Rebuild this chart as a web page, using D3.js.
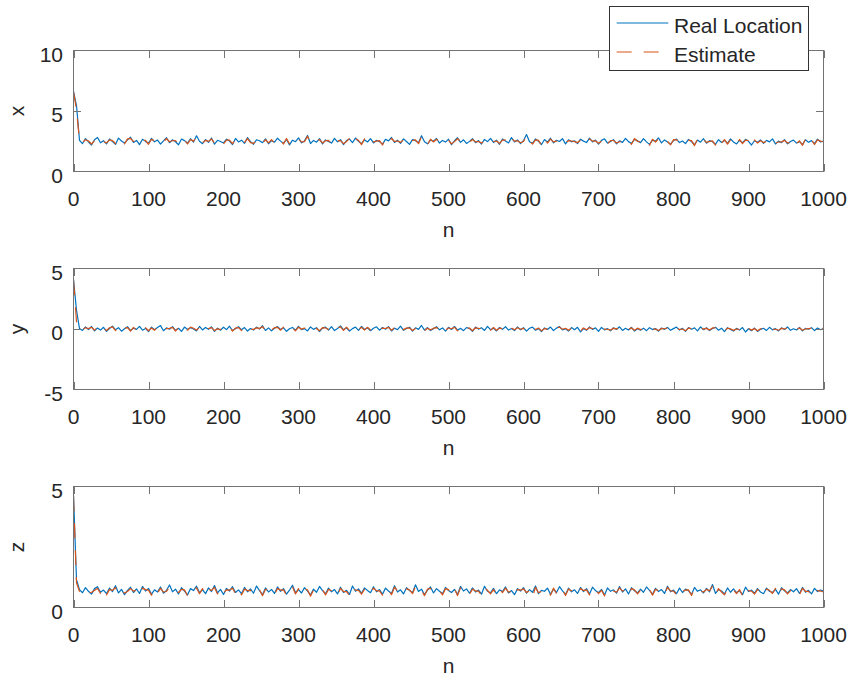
<!DOCTYPE html>
<html>
<head>
<meta charset="utf-8">
<script src="https://cdn.jsdelivr.net/npm/d3@7"></script>
<style>
  html, body { margin: 0; padding: 0; background: #fff; }
  svg { display: block; }
  text { font-family: "Liberation Sans", Arial, Helvetica, sans-serif; fill: #262626; }
</style>
</head>
<body>
<svg id="chart" width="852" height="681"></svg>
<script>
// Sample positions along n (every 4th step from 0 to 1000)
const sampleN = d3.range(0, 1001, 4);

// x coordinate: real location and estimate
const xReal = [
6.62,5.45,2.58,2.31,2.72,2.44,2.19,2.63,2.81,2.37,
2.55,2.28,2.69,2.47,2.24,2.76,2.52,2.35,2.61,2.83,
2.40,2.57,2.22,2.66,2.49,2.33,2.74,2.45,2.60,2.27,
2.53,2.79,2.38,2.62,2.46,2.21,2.68,2.55,2.34,2.71,
2.43,2.95,2.50,2.30,2.64,2.41,2.77,2.26,2.58,2.48,
2.36,2.67,2.52,2.23,2.73,2.44,2.59,2.32,2.80,2.47,
2.25,2.62,2.54,2.38,2.70,2.29,2.56,2.43,2.75,2.51,
2.34,2.65,2.20,2.59,2.46,2.78,2.37,2.53,2.98,2.31,
2.57,2.42,2.72,2.28,2.61,2.49,2.35,2.74,2.45,2.63,
2.22,2.56,2.68,2.39,2.77,2.50,2.30,2.62,2.44,2.71,
2.36,2.58,2.47,2.26,2.66,2.53,2.81,2.40,2.59,2.33,
2.70,2.48,2.24,2.63,2.55,2.37,2.96,2.46,2.29,2.60,
2.51,2.73,2.35,2.57,2.43,2.67,2.21,2.54,2.79,2.41,
2.62,2.32,2.49,2.71,2.38,2.56,2.27,2.65,2.47,2.74,
2.40,2.59,2.25,2.68,2.52,2.36,2.80,2.44,2.61,2.30,
2.55,3.05,2.46,2.33,2.69,2.50,2.23,2.64,2.42,2.75,
2.37,2.58,2.48,2.72,2.28,2.62,2.45,2.54,2.31,2.67,
2.51,2.39,2.76,2.44,2.60,2.26,2.57,2.70,2.35,2.49,
2.63,2.29,2.53,2.41,2.74,2.47,2.32,2.66,2.55,2.38,
2.72,2.45,2.24,2.59,2.50,2.78,2.36,2.61,2.43,2.27,
2.56,2.68,2.39,2.52,2.30,2.65,2.48,2.21,2.60,2.42,
2.71,2.34,2.55,2.46,2.25,2.63,2.40,2.57,2.33,2.69,
2.44,2.28,2.58,2.37,2.66,2.49,2.19,2.54,2.42,2.61,
2.32,2.57,2.45,2.70,2.27,2.51,2.38,2.64,2.29,2.48,
2.59,2.35,2.47,2.23,2.62,2.41,2.55,2.30,2.68,2.44,
2.52];
const xEst = [
6.58,5.10,2.50,2.40,2.63,2.52,2.27,2.55,2.74,2.45,
2.48,2.36,2.61,2.55,2.31,2.68,2.59,2.28,2.70,2.74,
2.48,2.50,2.30,2.58,2.57,2.25,2.66,2.53,2.52,2.35,
2.45,2.71,2.46,2.54,2.55,2.29,2.60,2.63,2.27,2.64,
2.51,2.86,2.43,2.38,2.57,2.49,2.69,2.34,2.51,2.56,
2.28,2.60,2.59,2.31,2.65,2.52,2.51,2.40,2.72,2.39,
2.33,2.54,2.61,2.30,2.63,2.37,2.64,2.35,2.68,2.58,
2.27,2.73,2.28,2.51,2.54,2.70,2.45,2.46,2.90,2.39,
2.49,2.50,2.64,2.36,2.54,2.57,2.27,2.67,2.52,2.55,
2.30,2.48,2.75,2.32,2.69,2.58,2.22,2.70,2.37,2.63,
2.44,2.51,2.55,2.19,2.73,2.46,2.73,2.48,2.52,2.41,
2.62,2.56,2.31,2.56,2.62,2.30,2.88,2.53,2.22,2.67,
2.44,2.66,2.42,2.50,2.51,2.59,2.29,2.47,2.71,2.49,
2.55,2.40,2.42,2.64,2.45,2.48,2.35,2.58,2.54,2.66,
2.48,2.52,2.33,2.60,2.59,2.29,2.73,2.51,2.54,2.38,
2.48,2.96,2.53,2.26,2.62,2.57,2.16,2.72,2.35,2.68,
2.45,2.51,2.55,2.64,2.35,2.55,2.52,2.47,2.39,2.59,
2.58,2.32,2.69,2.51,2.53,2.33,2.50,2.77,2.28,2.56,
2.56,2.36,2.46,2.48,2.67,2.54,2.25,2.73,2.48,2.45,
2.65,2.52,2.17,2.66,2.43,2.71,2.43,2.54,2.50,2.20,
2.63,2.61,2.46,2.45,2.37,2.58,2.55,2.14,2.67,2.35,
2.64,2.41,2.48,2.53,2.18,2.70,2.33,2.64,2.26,2.62,
2.51,2.21,2.65,2.30,2.59,2.56,2.12,2.61,2.35,2.54,
2.39,2.50,2.52,2.63,2.34,2.44,2.45,2.57,2.36,2.41,
2.66,2.28,2.54,2.16,2.69,2.34,2.62,2.23,2.61,2.51,
2.45];

// y coordinate: real location and estimate
const yReal = [
4.10,1.55,0.03,-0.12,0.17,-0.05,0.21,-0.16,0.08,-0.09,
0.14,-0.20,0.04,0.24,-0.07,0.11,-0.18,0.02,0.19,-0.13,
0.07,-0.03,0.22,-0.10,0.05,-0.21,0.15,-0.06,0.12,0.28,
-0.14,0.09,-0.02,0.20,-0.11,0.06,-0.19,0.16,-0.04,0.10,
0.00,-0.16,0.21,-0.08,0.13,-0.03,0.18,-0.20,0.07,-0.10,
0.15,-0.05,0.23,-0.13,0.03,0.19,-0.07,0.12,-0.17,0.04,
-0.09,0.16,-0.01,0.27,-0.12,0.09,-0.15,0.06,0.20,-0.04,
0.10,-0.19,0.02,0.13,-0.10,0.22,-0.06,0.03,-0.16,0.17,
-0.03,0.11,-0.21,0.07,0.15,-0.09,0.19,-0.13,0.04,0.25,
-0.07,0.10,-0.17,0.03,0.16,-0.11,0.21,-0.04,0.09,-0.14,
0.06,0.18,-0.10,0.13,-0.02,0.20,-0.16,0.07,-0.06,0.23,
-0.11,0.04,0.15,-0.18,0.10,-0.03,0.29,-0.09,0.12,-0.13,
0.02,0.19,-0.07,0.09,-0.17,0.14,-0.04,0.21,-0.10,0.06,
-0.14,0.12,0.03,-0.20,0.16,-0.01,0.10,-0.12,0.22,-0.06,
0.07,-0.16,0.13,-0.03,0.19,-0.09,0.04,-0.13,0.17,-0.07,
0.11,-0.18,0.06,0.15,-0.10,0.03,-0.22,0.09,-0.04,0.16,
-0.13,0.07,0.20,-0.08,0.02,-0.17,0.12,-0.06,0.14,-0.24,
0.04,-0.11,0.17,-0.03,0.09,-0.19,0.13,-0.07,0.03,-0.15,
0.10,-0.04,0.18,-0.12,0.06,-0.08,0.14,-0.17,0.02,-0.10,
0.07,-0.14,0.11,-0.05,0.04,-0.18,0.08,-0.03,0.13,-0.11,
0.03,0.16,-0.09,0.05,-0.20,0.12,-0.02,0.09,-0.15,0.18,
-0.06,0.10,-0.13,0.04,0.15,-0.10,0.07,-0.22,0.11,-0.04,
-0.17,0.05,-0.09,0.12,-0.25,0.02,-0.14,0.08,-0.20,-0.03,
0.06,-0.12,0.14,-0.07,0.03,-0.16,0.10,-0.05,0.17,-0.11,
0.02,-0.08,0.13,-0.15,0.05,-0.02,0.11,-0.13,0.08,-0.06,
0.04];
const yEst = [
4.02,0.62,-0.05,-0.04,0.10,0.03,0.14,-0.09,0.13,-0.15,
0.06,-0.12,0.10,0.17,-0.13,0.16,-0.10,0.07,0.12,-0.18,
0.13,-0.09,0.15,-0.04,0.10,-0.14,0.08,-0.11,0.17,0.20,
-0.07,0.03,0.05,0.13,-0.17,0.11,-0.12,0.09,-0.10,0.15,
0.06,-0.09,0.14,-0.14,0.08,0.03,0.11,-0.13,0.01,-0.04,
0.09,0.01,0.16,-0.18,0.08,0.12,-0.13,0.17,-0.10,-0.02,
-0.03,0.09,0.05,0.19,-0.17,0.14,-0.08,0.11,0.13,-0.10,
0.15,-0.12,0.07,0.06,-0.15,0.15,-0.01,0.08,-0.09,0.10,
0.03,0.04,-0.14,0.12,0.08,-0.03,0.12,-0.08,0.10,0.17,
-0.12,0.15,-0.10,0.08,0.09,-0.05,0.14,-0.09,0.14,-0.08,
0.11,0.10,-0.04,0.07,0.04,0.13,-0.10,0.12,-0.11,0.16,
-0.05,0.09,0.08,-0.12,0.04,0.03,0.21,-0.14,0.06,-0.07,
0.07,0.12,-0.12,0.14,-0.11,0.08,0.02,0.15,-0.15,0.11,
-0.08,0.06,0.08,-0.14,0.10,0.05,0.04,-0.06,0.15,-0.11,
0.12,-0.10,0.07,0.03,0.12,-0.14,0.09,-0.07,0.11,-0.02,
0.05,-0.12,0.11,0.09,-0.04,0.08,-0.15,0.03,0.01,0.10,
-0.07,0.12,0.14,-0.02,0.06,-0.11,0.07,0.00,0.09,-0.17,
0.09,-0.06,0.11,0.02,0.04,-0.13,0.08,-0.01,-0.02,-0.09,
0.05,0.01,0.12,-0.06,0.00,-0.03,0.09,-0.11,0.07,-0.05,
0.01,-0.08,0.06,0.00,-0.01,-0.12,0.03,0.02,0.08,-0.06,
0.08,0.10,-0.04,0.00,-0.14,0.07,0.03,0.04,-0.09,0.12,
-0.01,0.05,-0.08,0.09,0.09,-0.05,0.02,-0.16,0.06,0.01,
-0.11,0.00,-0.04,0.07,-0.18,0.06,-0.09,0.03,-0.14,0.02,
0.01,-0.07,0.09,-0.02,-0.02,-0.10,0.05,0.00,0.11,-0.06,
0.06,-0.03,0.08,-0.10,0.00,0.03,0.06,-0.08,0.03,-0.01,
0.07];

// z coordinate: real location and estimate
const zReal = [
4.65,1.15,0.74,0.61,0.82,0.67,0.55,0.78,0.86,0.63,
0.72,0.57,0.80,0.66,0.90,0.60,0.75,0.53,0.71,0.84,
0.62,0.77,0.58,0.87,0.68,0.79,0.55,0.73,0.64,0.85,
0.59,0.71,0.93,0.65,0.76,0.56,0.82,0.68,0.52,0.78,
0.70,0.88,0.61,0.74,0.57,0.81,0.66,0.91,0.60,0.75,
0.54,0.79,0.68,0.86,0.62,0.73,0.57,0.83,0.65,0.77,
0.59,0.89,0.70,0.53,0.81,0.64,0.75,0.58,0.85,0.67,
0.78,0.55,0.72,0.92,0.61,0.74,0.60,0.82,0.68,0.52,
0.76,0.63,0.87,0.70,0.57,0.80,0.65,0.74,0.56,0.84,
0.62,0.71,0.54,0.89,0.67,0.77,0.59,0.81,0.70,0.61,
0.86,0.65,0.74,0.55,0.80,0.68,0.58,0.90,0.64,0.73,
0.56,0.82,0.70,0.61,0.94,0.66,0.76,0.53,0.72,0.85,
0.60,0.78,0.67,0.57,0.83,0.70,0.62,0.75,0.54,0.87,
0.68,0.77,0.59,0.81,0.64,0.72,0.55,0.88,0.67,0.61,
0.79,0.57,0.73,0.66,0.85,0.60,0.70,0.53,0.78,0.68,
0.82,0.59,0.74,0.63,0.89,0.57,0.71,0.67,0.80,0.55,
0.76,0.62,0.86,0.69,0.54,0.80,0.65,0.73,0.58,0.83,
0.66,0.78,0.56,0.84,0.70,0.61,0.75,0.52,0.81,0.67,
0.73,0.59,0.87,0.64,0.77,0.56,0.82,0.69,0.60,0.76,
0.63,0.85,0.71,0.55,0.79,0.66,0.74,0.58,0.88,0.65,
0.72,0.57,0.80,0.62,0.76,0.69,0.54,0.83,0.67,0.73,
0.60,0.79,0.65,0.95,0.58,0.74,0.68,0.56,0.81,0.63,
0.77,0.61,0.70,0.53,0.84,0.66,0.72,0.59,0.78,0.64,
0.57,0.80,0.67,0.62,0.75,0.55,0.82,0.69,0.60,0.74,
0.65,0.78,0.58,0.83,0.63,0.71,0.56,0.79,0.66,0.72,
0.68];
const zEst = [
4.60,1.02,0.66,0.70,0.75,0.61,0.63,0.70,0.79,0.58,
0.77,0.52,0.74,0.71,0.82,0.56,0.69,0.60,0.66,0.78,
0.68,0.71,0.53,0.80,0.74,0.72,0.51,0.77,0.60,0.79,
0.64,0.66,0.84,0.71,0.69,0.62,0.75,0.73,0.48,0.72,
0.75,0.81,0.57,0.78,0.53,0.75,0.71,0.83,0.56,0.79,
0.60,0.73,0.72,0.80,0.57,0.77,0.52,0.76,0.70,0.71,
0.64,0.82,0.74,0.49,0.75,0.69,0.70,0.54,0.78,0.72,
0.73,0.51,0.77,0.85,0.56,0.78,0.56,0.76,0.73,0.47,
0.71,0.67,0.80,0.74,0.52,0.75,0.69,0.70,0.51,0.79,
0.66,0.66,0.50,0.82,0.72,0.71,0.55,0.75,0.74,0.57,
0.80,0.69,0.69,0.51,0.76,0.72,0.53,0.84,0.68,0.68,
0.60,0.77,0.73,0.57,0.87,0.70,0.71,0.49,0.76,0.79,
0.64,0.73,0.70,0.52,0.78,0.74,0.57,0.79,0.49,0.81,
0.72,0.72,0.55,0.76,0.68,0.68,0.50,0.82,0.71,0.56,
0.74,0.53,0.77,0.61,0.80,0.64,0.66,0.48,0.74,0.72,
0.77,0.62,0.70,0.43,0.83,0.61,0.67,0.71,0.75,0.51,
0.80,0.58,0.80,0.73,0.50,0.76,0.69,0.68,0.54,0.78,
0.70,0.73,0.52,0.79,0.74,0.57,0.71,0.48,0.77,0.71,
0.68,0.63,0.81,0.68,0.72,0.52,0.78,0.73,0.56,0.72,
0.67,0.80,0.74,0.51,0.75,0.70,0.69,0.54,0.83,0.69,
0.68,0.53,0.76,0.66,0.72,0.73,0.50,0.79,0.71,0.68,
0.64,0.75,0.69,0.88,0.54,0.78,0.64,0.52,0.77,0.67,
0.73,0.57,0.74,0.49,0.80,0.70,0.68,0.55,0.74,0.68,
0.53,0.76,0.71,0.58,0.79,0.51,0.77,0.73,0.56,0.70,
0.69,0.74,0.54,0.79,0.67,0.67,0.52,0.75,0.70,0.68,
0.64];

// Axis ticks
const nTicks = [0, 100, 200, 300, 400, 500, 600, 700, 800, 900, 1000];
const xTicks = [0, 5, 10];
const yTicks = [-5, 0, 5];
const zTicks = [0, 5];

const seriesNames = ["Real Location", "Estimate"];
const colors = { real: "#0072BD", est: "#D95319" };

const panels = [
  { label: "x", real: xReal, est: xEst, domain: [0, 10], ticks: xTicks, top: 50.5 },
  { label: "y", real: yReal, est: yEst, domain: [-5, 5], ticks: yTicks, top: 268.5 },
  { label: "z", real: zReal, est: zEst, domain: [0, 5], ticks: zTicks, top: 486.5 }
];

const left = 73.5, plotW = 750, plotH = 121;
const fontSize = 21;
const tickLen = 7.5;
const axisColor = "#737373";
const dash = "15,12";

const svg = d3.select("#chart");
const defs = svg.append("defs");

const xScale = d3.scaleLinear().domain([0, 1000]).range([left, left + plotW]);

panels.forEach((p, k) => {
  const top = p.top, bottom = top + plotH;
  const yScale = d3.scaleLinear().domain(p.domain).range([bottom, top]);
  const g = svg.append("g");

  const clipId = "clip" + k;
  defs.append("clipPath").attr("id", clipId)
    .append("rect").attr("x", left).attr("y", top).attr("width", plotW).attr("height", plotH);

  const line = (vals) => d3.line()
    .x((d, i) => xScale(sampleN[i]))
    .y(d => yScale(d))(vals.slice(0, sampleN.length));

  const dataG = g.append("g").attr("clip-path", `url(#${clipId})`);
  dataG.append("path").attr("d", line(p.real))
    .attr("fill", "none").attr("stroke", colors.real).attr("stroke-width", 1.2)
    .attr("stroke-linejoin", "round");
  dataG.append("path").attr("d", line(p.est))
    .attr("fill", "none").attr("stroke", colors.est).attr("stroke-width", 1.2)
    .attr("stroke-linejoin", "round")
    .attr("stroke-dasharray", dash);

  // Inward ticks on all four sides
  const tg = g.append("g").attr("stroke", axisColor).attr("stroke-width", 1);
  nTicks.forEach(t => {
    const x = Math.round(xScale(t)) + 0.5;
    tg.append("line").attr("x1", x).attr("x2", x).attr("y1", bottom).attr("y2", bottom - tickLen);
    tg.append("line").attr("x1", x).attr("x2", x).attr("y1", top).attr("y2", top + tickLen);
  });
  p.ticks.forEach(t => {
    const y = Math.round(yScale(t) - 0.5) + 0.5;
    tg.append("line").attr("x1", left).attr("x2", left + tickLen).attr("y1", y).attr("y2", y);
    tg.append("line").attr("x1", left + plotW).attr("x2", left + plotW - tickLen).attr("y1", y).attr("y2", y);
  });

  // Axes box
  g.append("rect").attr("x", left).attr("y", top).attr("width", plotW).attr("height", plotH)
    .attr("fill", "none").attr("stroke", axisColor).attr("stroke-width", 1);

  // Tick labels
  nTicks.forEach(t => {
    g.append("text").attr("x", xScale(t)).attr("y", bottom + 34.5)
      .attr("text-anchor", "middle").attr("font-size", fontSize).text(t);
  });
  p.ticks.forEach(t => {
    g.append("text").attr("x", left - 10.5).attr("y", yScale(t) + 11)
      .attr("text-anchor", "end").attr("font-size", fontSize).text(t);
  });

  // Axis titles
  g.append("text").attr("x", xScale(500)).attr("y", bottom + 65)
    .attr("text-anchor", "middle").attr("font-size", fontSize).text("n");
  g.append("text")
    .attr("transform", `translate(24,${(top + bottom) / 2}) rotate(-90)`)
    .attr("text-anchor", "middle").attr("font-size", fontSize).text(p.label);
});

// Legend
const lg = svg.append("g");
lg.append("rect").attr("x", 609.5).attr("y", 6.5).attr("width", 199).attr("height", 64)
  .attr("fill", "#fff").attr("stroke", "#333").attr("stroke-width", 1);
const legendRows = [
  { name: seriesNames[0], color: colors.real, dash: null, y: 23, base: 33.3 },
  { name: seriesNames[1], color: colors.est, dash: dash, y: 52, base: 61.7 }
];
legendRows.forEach(r => {
  lg.append("line").attr("x1", 616.7).attr("x2", 668.3).attr("y1", r.y).attr("y2", r.y)
    .attr("stroke", r.color).attr("stroke-width", 1)
    .attr("stroke-dasharray", r.dash);
  lg.append("text").attr("x", 674).attr("y", r.base).attr("font-size", fontSize).text(r.name);
});
</script>
</body>
</html>
